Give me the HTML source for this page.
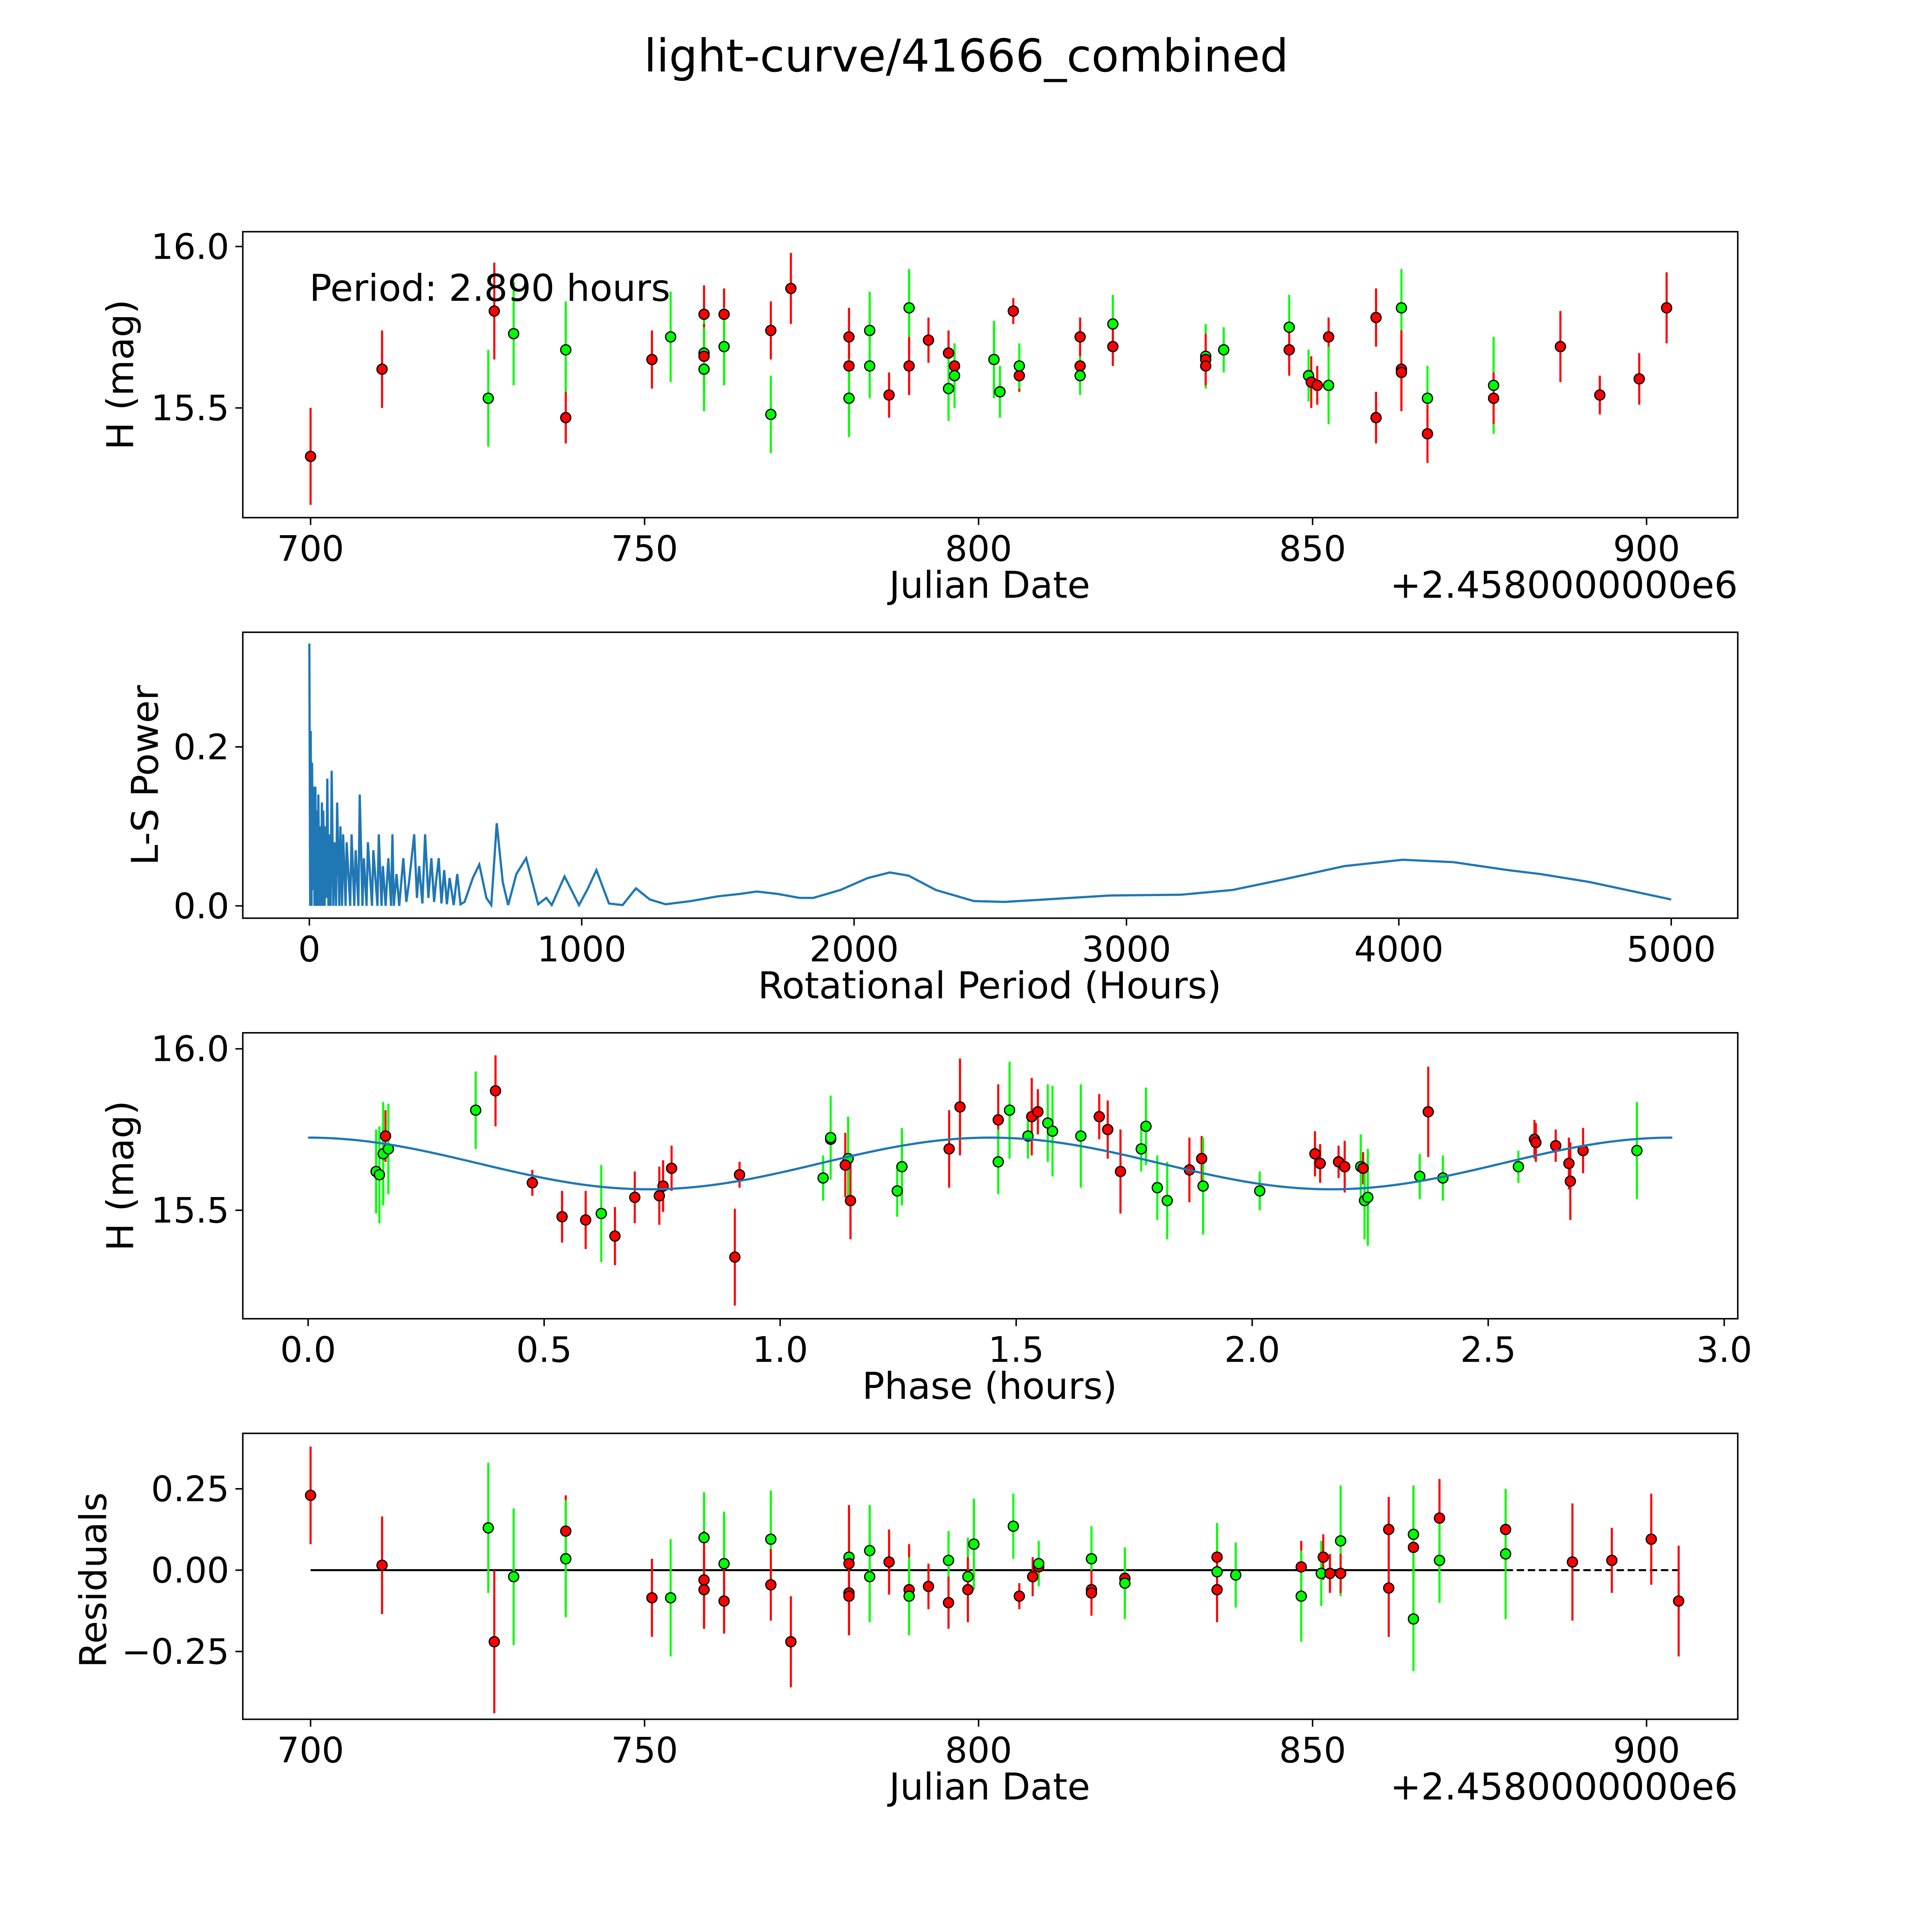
<!DOCTYPE html>
<html><head><meta charset="utf-8"><style>
html,body{margin:0;padding:0;background:#fff;overflow:hidden;width:5400px;height:5400px}
svg{display:block}
text{font-family:"DejaVu Sans","Liberation Sans",sans-serif;fill:#000}
</style></head><body>
<svg id="chart" xmlns="http://www.w3.org/2000/svg" width="5400" height="5400" viewBox="0 0 1693 1693">
<rect width="1693" height="1693" fill="#fff"/>
<text x="784" y="58" font-size="36.5" text-anchor="middle">light-curve/41666_combined</text>
<g id="g"></g>
</svg>
<script>
// Panel 1 data: Julian date offsets, magnitude, error, color
const dates=[700,710.7,726.6,727.5,730.4,738.2,738.2,751.1,753.9,758.9,758.9,758.9,758.9,761.9,761.9,768.9,768.9,771.9,780.6,780.6,780.6,783.7,783.7,786.6,789.6,789.6,792.5,795.5,795.5,796.4,796.4,802.3,803.2,805.2,806.1,806.1,815.2,815.2,815.2,820.1,820.1,834,834,834,836.7,846.5,846.5,849.4,849.8,850.7,852.4,852.4,859.5,859.5,863.3,863.3,863.3,867.2,867.2,877.1,877.1,887.1,893,898.9,903];
const mags=[15.35,15.62,15.53,15.80,15.73,15.68,15.47,15.65,15.72,15.79,15.67,15.66,15.62,15.79,15.69,15.48,15.74,15.87,15.72,15.63,15.53,15.74,15.63,15.54,15.81,15.63,15.71,15.67,15.56,15.63,15.60,15.65,15.55,15.80,15.60,15.63,15.72,15.63,15.60,15.76,15.69,15.66,15.65,15.63,15.68,15.75,15.68,15.60,15.58,15.57,15.72,15.57,15.78,15.47,15.81,15.62,15.61,15.53,15.42,15.57,15.53,15.69,15.54,15.59,15.81];
const errs=[0.15,0.12,0.15,0.15,0.16,0.15,0.08,0.09,0.14,0.09,0.12,0.1,0.13,0.08,0.12,0.12,0.09,0.11,0.09,0.12,0.12,0.12,0.1,0.07,0.12,0.09,0.07,0.07,0.1,0.07,0.1,0.12,0.08,0.04,0.05,0.07,0.06,0.07,0.06,0.09,0.06,0.1,0.08,0.06,0.07,0.1,0.08,0.08,0.08,0.06,0.06,0.12,0.09,0.08,0.12,0.12,0.12,0.1,0.09,0.15,0.08,0.11,0.06,0.08,0.11];
const cols=['r','r','g','r','g','g','r','r','g','r','g','r','g','r','g','g','r','r','r','r','g','g','g','r','g','r','r','r','g','r','g','g','g','r','r','g','r','r','g','g','r','g','r','r','g','g','r','g','r','r','r','g','r','r','g','r','r','g','r','g','r','r','r','r','r'];
// Panel 2 periodogram
const periods=[0,3,5,8,10,13,15,19,22,26,28,31,33,37,40,44,46,49,51,56,58,62,66,70,74,78,82,88,92,98,102,110,114,120,124,133,137,150,155,165,170,180,185,195,200,210,215,230,235,250,255,265,270,280,290,300,305,310,320,330,345,356,366,385,395,403,415,425,437,448,458,465,475,485,495,505,515,530,543,555,570,600,624,650,668,688,710,730,760,796,840,870,890,937,990,1020,1054,1100,1150,1199,1250,1308,1400,1500,1580,1643,1720,1800,1850,1950,2050,2131,2200,2300,2440,2552,2700,2937,3200,3390,3600,3800,4014,4200,4400,4520,4700,5000];
const power=[0.33,0,0.22,0,0.18,0.02,0.15,0,0.15,0,0.12,0,0.14,0,0.10,0,0.13,0,0.12,0,0.10,0.01,0.16,0,0.09,0,0.17,0,0.08,0,0.13,0,0.10,0,0.09,0,0.08,0,0.09,0,0.07,0,0.14,0,0.06,0,0.08,0,0.07,0,0.09,0,0.05,0,0.06,0,0.09,0,0.04,0,0.06,0.005,0.03,0.09,0.01,0.05,0.003,0.09,0.01,0.06,0.005,0.03,0.06,0.003,0.045,0.002,0.035,0.001,0.04,0.002,0.005,0.035,0.052,0.01,0.001,0.104,0.03,0.001,0.04,0.06,0.002,0.01,0.001,0.037,0.001,0.02,0.045,0.003,0.001,0.022,0.008,0.002,0.006,0.012,0.015,0.018,0.015,0.01,0.01,0.02,0.035,0.042,0.038,0.02,0.006,0.005,0.008,0.013,0.014,0.02,0.035,0.05,0.058,0.055,0.045,0.04,0.03,0.008];
// Panel 3 phased data
const phases=[0.144,0.151,0.159,0.164,0.170,0.355,0.397,0.475,0.538,0.588,0.621,0.650,0.692,0.744,0.752,0.770,0.904,0.914,1.091,1.107,1.107,1.144,1.149,1.138,1.248,1.258,1.358,1.381,1.462,1.462,1.486,1.525,1.533,1.546,1.567,1.577,1.637,1.676,1.694,1.721,1.765,1.775,1.799,1.820,1.867,1.893,1.896,2.016,2.133,2.144,2.183,2.196,2.230,2.235,2.238,2.245,2.355,2.373,2.404,2.564,2.598,2.601,2.643,2.671,2.674,2.701,2.815];
const phMags=[15.62,15.61,15.675,15.73,15.69,15.81,15.87,15.585,15.48,15.47,15.49,15.42,15.54,15.545,15.575,15.63,15.355,15.61,15.6,15.72,15.725,15.66,15.53,15.64,15.56,15.635,15.69,15.82,15.78,15.65,15.81,15.73,15.79,15.805,15.77,15.745,15.73,15.79,15.75,15.62,15.69,15.76,15.57,15.53,15.625,15.66,15.575,15.56,15.675,15.645,15.65,15.635,15.635,15.63,15.53,15.54,15.605,15.805,15.6,15.635,15.72,15.71,15.7,15.645,15.59,15.685,15.685];
const phErrs=[0.13,0.15,0.16,0.08,0.14,0.12,0.11,0.04,0.08,0.09,0.15,0.09,0.08,0.09,0.08,0.07,0.15,0.04,0.07,0.1,0.13,0.13,0.12,0.1,0.08,0.12,0.12,0.15,0.11,0.1,0.15,0.07,0.12,0.07,0.12,0.14,0.16,0.07,0.09,0.13,0.07,0.12,0.1,0.12,0.1,0.07,0.15,0.06,0.07,0.06,0.05,0.08,0.1,0.05,0.12,0.15,0.07,0.14,0.07,0.05,0.06,0.06,0.05,0.08,0.12,0.07,0.15];
const phCols=['g','g','g','r','g','g','r','r','r','r','g','r','r','r','r','r','r','r','g','r','g','g','r','r','g','g','r','r','r','g','g','g','r','r','g','g','g','r','r','r','g','g','g','g','r','r','g','g','r','r','r','r','g','r','g','g','g','r','g','g','r','r','r','r','r','r','g'];
const fitParams=[15.645,0.08,2.89];
// Panel 4 residuals
const resDates=[700,710.7,726.6,727.5,730.4,738.2,738.2,751.1,753.9,758.9,758.9,758.9,761.9,761.9,768.9,768.9,771.9,780.6,780.6,780.6,780.6,783.7,783.7,786.6,789.6,789.6,792.5,795.5,795.5,798.4,798.4,799.3,805.2,806.1,808.1,809,809,816.9,816.9,816.9,821.9,821.9,835.7,835.7,835.7,838.5,848.3,848.3,851.3,851.6,852.6,854.2,854.2,861.4,861.4,865.1,865.1,865.1,869,869,878.9,878.9,888.9,894.8,900.7,904.8];
const resVals=[0.23,0.015,0.13,-0.22,-0.02,0.12,0.035,-0.085,-0.085,0.10,-0.03,-0.06,0.02,-0.095,0.095,-0.045,-0.22,0.04,0.02,-0.07,-0.08,0.06,-0.02,0.025,-0.06,-0.08,-0.05,0.03,-0.10,-0.02,-0.06,0.08,0.135,-0.08,-0.02,0.01,0.02,0.035,-0.06,-0.07,-0.025,-0.04,0.04,-0.005,-0.06,-0.015,0.01,-0.08,-0.01,0.04,-0.01,0.09,-0.01,0.125,-0.055,0.07,0.11,-0.15,0.16,0.03,0.125,0.05,0.025,0.03,0.095,-0.095];
const resErrs=[0.15,0.15,0.2,0.22,0.21,0.11,0.18,0.12,0.18,0.14,0.15,0.12,0.16,0.1,0.15,0.11,0.14,0.15,0.18,0.13,0.12,0.14,0.14,0.1,0.14,0.12,0.07,0.09,0.08,0.12,0.1,0.14,0.1,0.04,0.06,0.05,0.07,0.1,0.06,0.07,0.06,0.11,0.07,0.15,0.1,0.1,0.08,0.14,0.1,0.07,0.06,0.17,0.06,0.1,0.15,0.19,0.15,0.16,0.12,0.13,0.12,0.2,0.18,0.1,0.14,0.17];
const resCols=['r','r','g','r','g','r','g','r','g','g','r','r','g','r','g','r','r','g','r','r','r','g','g','r','r','g','r','g','r','g','r','g','g','r','r','r','g','g','r','r','r','g','r','g','r','g','r','g','g','r','r','g','r','r','r','r','g','g','r','g','r','g','r','r','r','r'];

const NS='http://www.w3.org/2000/svg';
const G=document.getElementById('g');
function mk(tag,attrs,parent,text){const e=document.createElementNS(NS,tag);for(const k in attrs)e.setAttribute(k,attrs[k]);if(text!==undefined)e.textContent=text;(parent||G).appendChild(e);return e;}
function lin(d0,d1,r0,r1){return v=>r0+(v-d0)*(r1-r0)/(d1-d0);}
const COL={r:'#ff0000',g:'#00ff00'};

function axesBox(name,x0,y0,x1,y1){
  const r=mk('rect',{x:x0,y:y0,width:x1-x0,height:y1-y0,fill:'none',stroke:'#000','stroke-width':1.2});
  
  
}
function xTicks(name,vals,labels,sx,yb){
  const g=mk('g',{});
  
  
  vals.forEach((v,i)=>{const x=sx(v);mk('line',{x1:x,x2:x,y1:yb,y2:yb+6,stroke:'#000','stroke-width':1.2},g);
    mk('text',{x:x,y:yb+35,'font-size':28.5,'text-anchor':'middle'},g,labels[i]);});
}
function yTicks(name,vals,labels,sy,xl){
  const g=mk('g',{});
  
  
  vals.forEach((v,i)=>{const y=sy(v);mk('line',{x1:xl-6,x2:xl,y1:y,y2:y,stroke:'#000','stroke-width':1.2},g);
    mk('text',{x:xl-11,y:y+10,'font-size':28.5,'text-anchor':'end'},g,labels[i]);});
}
function label(name,txt,x,y,rot){
  const t=mk('text',{x:x,y:y,'font-size':30,'text-anchor':'middle',transform:rot?`rotate(-90 ${x} ${y})`:''},G,txt);
  
  
}
function errPoints(name,xs,ys,es,cs,sx,sy){
  const g=mk('g',{});
  
  
  xs.forEach((v,i)=>{const x=sx(v);mk('line',{x1:x,x2:x,y1:sy(ys[i]-es[i]),y2:sy(ys[i]+es[i]),stroke:COL[cs[i]],'stroke-width':1.7},g);});
  xs.forEach((v,i)=>{const c=mk('circle',{cx:sx(v),cy:sy(ys[i]),r:4.1,fill:COL[cs[i]],stroke:'#000','stroke-width':1},g);
    
    });
}

// Panel 1
{const sx=lin(700,900,252,1336), sy=lin(15.5,16.0,331,200);
 errPoints('lightcurve-points',dates,mags,errs,cols,sx,sy);
 axesBox('lightcurve-axes',197,188,1410,420);
 xTicks('lightcurve-x-ticks',[700,750,800,850,900],['700','750','800','850','900'],sx,420);
 yTicks('lightcurve-y-ticks',[15.5,16.0],['15.5','16.0'],sy,197);
 label('lightcurve-x-title','Julian Date',803,485);
 label('lightcurve-y-title','H (mag)',108,304,true);
 const o=mk('text',{x:1410,y:485,'font-size':30,'text-anchor':'end'},G,'+2.4580000000e6');
 
 
 const p=mk('text',{x:251,y:244,'font-size':30},G,'Period: 2.890 hours');
 
 }

// Panel 2
{const sx=lin(0,5000,251,1356), sy=lin(0,0.2,735,606);
 const pl=mk('polyline',{points:periods.map((v,i)=>sx(v)+','+sy(power[i])).join(' '),fill:'none',stroke:'#1f77b4','stroke-width':1.8});
 
 
 axesBox('periodogram-axes',197,513,1410,745);
 xTicks('periodogram-x-ticks',[0,1000,2000,3000,4000,5000],['0','1000','2000','3000','4000','5000'],sx,745);
 yTicks('periodogram-y-ticks',[0,0.2],['0.0','0.2'],sy,197);
 label('periodogram-x-title','Rotational Period (Hours)',803,810);
 label('periodogram-y-title','L-S Power',128,629,true);}

// Panel 3
{const sx=lin(0,3,250,1399), sy=lin(15.5,16.0,982,851);
 errPoints('phased-points',phases,phMags,phErrs,phCols,sx,sy);
 const pts=[];for(let i=0;i<=200;i++){const t=fitParams[2]*i/200;pts.push(sx(t)+','+sy(fitParams[0]+fitParams[1]*Math.cos(4*Math.PI*t/fitParams[2])));}
 const fl=mk('polyline',{points:pts.join(' '),fill:'none',stroke:'#1f77b4','stroke-width':1.8});
 
 
 axesBox('phased-axes',197,838,1410,1070);
 xTicks('phased-x-ticks',[0,0.5,1,1.5,2,2.5,3],['0.0','0.5','1.0','1.5','2.0','2.5','3.0'],sx,1070);
 yTicks('phased-y-ticks',[15.5,16.0],['15.5','16.0'],sy,197);
 label('phased-x-title','Phase (hours)',803,1135);
 label('phased-y-title','H (mag)',108,954,true);}

// Panel 4
{const sx=lin(700,900,252,1336), sy=lin(0,0.25,1274,1208);
 const l1=mk('line',{x1:sx(700),x2:sx(878.9),y1:sy(0),y2:sy(0),stroke:'#000','stroke-width':1.6});
 
 
 const l2=mk('line',{x1:sx(878.9),x2:sx(904.8),y1:sy(0),y2:sy(0),stroke:'#000','stroke-width':1.6,'stroke-dasharray':'6,3'});
 
 
 errPoints('residual-points',resDates,resVals,resErrs,resCols,sx,sy);
 axesBox('residuals-axes',197,1163,1410,1395);
 xTicks('residuals-x-ticks',[700,750,800,850,900],['700','750','800','850','900'],sx,1395);
 yTicks('residuals-y-ticks',[-0.25,0,0.25],['\u22120.25','0.00','0.25'],sy,197);
 label('residuals-x-title','Julian Date',803,1460);
 label('residuals-y-title','Residuals',86,1282,true);
 const o=mk('text',{x:1410,y:1460,'font-size':30,'text-anchor':'end'},G,'+2.4580000000e6');
 
 }
</script>
</body></html>
